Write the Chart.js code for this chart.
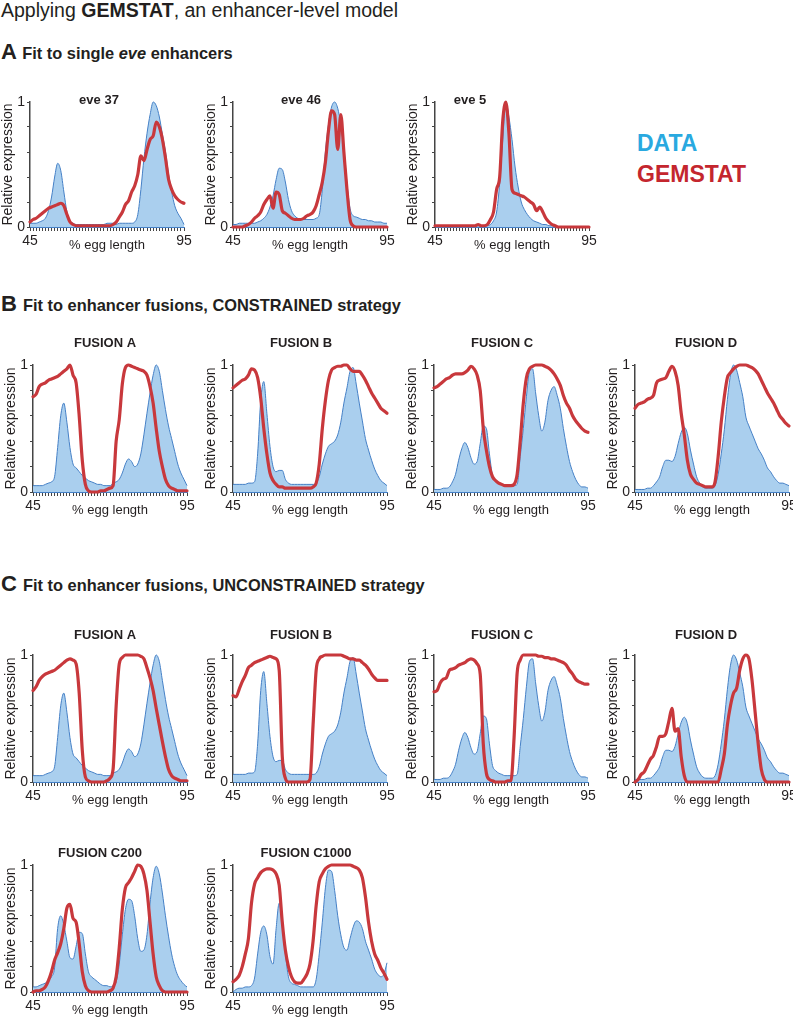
<!DOCTYPE html>
<html>
<head>
<meta charset="utf-8">
<script src="https://cdn.jsdelivr.net/npm/chart.js@4.4.1/dist/chart.umd.min.js"></script>
<style>
  body { margin: 0; background: #fff; overflow: hidden;
         font-family: "Liberation Sans", Arial, Helvetica, sans-serif; color: #231f20; }
  #page { position: relative; width: 793px; height: 1020px; }
  .txt { position: absolute; white-space: nowrap; line-height: 1; }
  .hdr { font-size: 22px; font-weight: bold; }
  .hdr span { font-size: 16.4px; }
  canvas { position: absolute; }
</style>
</head>
<body>
<div id="page">
  <div class="txt" style="left:1px; top:1px; font-size:19.5px;">Applying <b>GEMSTAT</b>, an enhancer-level model</div>
  <div class="txt hdr" style="left:1px; top:41px;">A <span>Fit to single <i>eve</i> enhancers</span></div>
  <div class="txt hdr" style="left:1px; top:293px;">B <span>Fit to enhancer fusions, CONSTRAINED strategy</span></div>
  <div class="txt hdr" style="left:1px; top:573px;">C <span>Fit to enhancer fusions, UNCONSTRAINED strategy</span></div>
  <div class="txt" style="left:637px; top:132px; font-size:23px; font-weight:bold; color:#29a9e0;">DATA</div>
  <div class="txt" style="left:637px; top:163px; font-size:23px; font-weight:bold; color:#c4262e;">GEMSTAT</div>
</div>
<script>
// x positions (% egg length)
const eggPos = [45,46,47,48,49,50,51,52,53,54,55,56,57,58,59,60,61,62,63,64,65,66,67,68,69,70,
                71,72,73,74,75,76,77,78,79,80,81,82,83,84,85,86,87,88,89,90,91,92,93,94,95];
const xTickLabels = [45, 95];
const yTickLabels = [0, 1];

// A: single eve enhancers
const eve37Data = [.03,.03,.03,.04,.05,.07,.13,.24,.4,.51, .45,.28,.12,.05,.03,.02,.02,.02,.02,.02,
  .02,.02,.02,.02,.02,.03,.03,.03,.02,.03, .03,.03,.03,.03,.04,.1,.3,.55,.75,.9, 1.0,.97,.88,.74,.6,.42,.28,.17,.11,.07, .02];
const eve37Gem = [.04,.06,.07,.09,.11,.13,.15,.16,.17,.18, .19,.17,.1,.04,.02,.01,.01,.01,.01,.01,
  .01,.01,.01,.01,.01,.01,.01,.02,.04,.08, .12,.18,.21,.28,.33,.42,.57,.53,.62,.7, .73,.84,.8,.7,.55,.38,.3,.25,.22,.2, .19];
const eve46Data = [.02,.02,.03,.03,.03,.03,.03,.03,.04,.05, .07,.1,.16,.25,.38,.47,.46,.36,.22,.13,
  .09,.07,.06,.06,.06,.06,.06,.07,.1,.3, .6,.82,.96,1.0,.95,.82,.62,.35,.15,.09, .08,.07,.06,.06,.05,.05,.04,.04,.04,.03, .03];
const eve46Gem = [0,0,0,0,.01,.02,.04,.07,.09,.12, .18,.22,.25,.15,.28,.26,.13,.11,.09,.07,
  .06,.06,.06,.07,.09,.1,.12,.17,.26,.36, .52,.77,.93,.9,.62,.9,.6,.3,.06,.01, 0,0,0,0,0,0,0,0,0,0, 0];
const eve5Data = [.01,.01,.01,.01,.01,.01,.01,.01,.01,.01, .01,.01,.01,.01,.01,.01,.01,.01,.02,.05,
  .12,.35,.7,1.0,.88,.7,.48,.32,.2,.14, .1,.07,.05,.04,.03,.02,.02,.01,.01,.01, 0,0,0,0,0,0,0,0,0,0, 0];
const eve5Gem = [.01,.01,.01,.01,.01,.01,.01,.01,.01,.01, .01,.01,.01,.01,.02,.01,.01,.02,.06,.12,
  .3,.4,.85,1.0,.75,.3,.27,.26,.25,.24, .22,.2,.18,.13,.16,.12,.07,.04,.02,.01, 0,0,0,0,0,0,0,0,0,0, 0];

// enhancer fusions: measured expression
const fusAData = [.05,.05,.05,.05,.06,.07,.08,.12,.35,.6, .7,.55,.35,.22,.19,.16,.13,.11,.09,.08,
  .07,.06,.06,.05,.05,.05,.07,.08,.1,.15, .22,.26,.24,.2,.22,.3,.45,.62,.78,.92, 1.0,.95,.8,.65,.52,.42,.32,.22,.15,.1, .05];
const fusBData = [.06,.06,.06,.06,.06,.07,.07,.08,.3,.72, .87,.62,.36,.2,.16,.17,.17,.1,.07,.06,
  .06,.06,.06,.06,.06,.06,.06,.07,.12,.22, .3,.36,.38,.4,.45,.55,.7,.82,.95,.98, .85,.7,.56,.42,.33,.25,.18,.13,.09,.07, .05];
const fusCData = [.02,.02,.02,.03,.03,.04,.08,.14,.25,.34, .39,.35,.27,.22,.24,.38,.52,.5,.3,.13,
  .09,.07,.06,.05,.05,.05,.05,.06,.28,.5, .75,.95,.97,.78,.6,.48,.55,.72,.8,.83, .76,.66,.5,.36,.24,.16,.1,.06,.04,.04, .03];
const fusDData = [.02,.02,.02,.02,.03,.03,.05,.08,.12,.2, .25,.25,.24,.28,.38,.47,.51,.46,.33,.22,
  .12,.07,.04,.03,.03,.03,.05,.14,.3,.49, .73,.92,1.0,.96,.86,.75,.59,.52,.46,.4, .34,.3,.25,.19,.16,.12,.09,.07,.07,.06, .05];
const fusC200Data = [.04,.04,.05,.06,.07,.09,.12,.19,.5,.6, .53,.4,.27,.26,.36,.47,.46,.3,.16,.12,
  .1,.08,.06,.05,.05,.04,.05,.08,.22,.45, .65,.73,.72,.6,.42,.32,.33,.45,.7,.9, .99,.93,.78,.6,.44,.3,.2,.13,.09,.06, .04];
const fusC1000Data = [0,.02,.03,.03,.04,.04,.05,.11,.3,.47, .52,.45,.28,.22,.5,.7,.52,.3,.12,.07,
  .06,.05,.04,.04,.04,.04,.04,.1,.3,.55, .82,.96,.95,.8,.6,.45,.35,.33,.42,.51, .56,.55,.5,.4,.33,.26,.18,.14,.12,.14, .23];

// B: GEMSTAT, constrained strategy
const fusAGemCon = [.75,.77,.83,.85,.86,.88,.89,.9,.91,.93, .95,.97,1.0,.92,.86,.6,.25,.06,.01,0,
  0,0,.01,.01,.02,.03,.05,.4,.57,.85, .98,1.0,.99,.98,.97,.96,.95,.92,.83,.7, .5,.32,.2,.1,.05,.03,.02,.01,.01,.01, .01];
const fusBGemCon = [.82,.84,.86,.88,.89,.92,.97,.96,.9,.74, .5,.3,.15,.09,.06,.04,.04,.03,.03,.03,
  .03,.03,.03,.03,.03,.03,.04,.07,.22,.5, .72,.88,.96,.98,.99,.99,1.0,1.0,.97,.95, .95,.95,.92,.88,.83,.78,.74,.7,.66,.64, .62];
const fusCGemCon = [.82,.83,.85,.87,.89,.9,.92,.93,.93,.93, .94,.96,.99,.97,.92,.8,.5,.33,.2,.12,
  .09,.07,.06,.05,.05,.05,.06,.14,.4,.7, .9,.97,.99,1.0,1.0,1.0,.99,.98,.96,.93, .89,.84,.76,.7,.66,.6,.56,.53,.5,.48, .47];
const fusDGemCon = [.66,.69,.7,.71,.73,.74,.76,.86,.88,.89, .9,.95,.99,.95,.84,.62,.45,.25,.14,.1,
  .07,.06,.05,.04,.04,.04,.08,.28,.55,.75, .9,.94,.97,.99,1.0,1.0,1.0,.99,.98,.96, .93,.88,.83,.78,.74,.7,.65,.6,.57,.54, .52];

// C: GEMSTAT, unconstrained strategy
const fusAGemUnc = [.72,.75,.8,.83,.85,.86,.87,.88,.9,.92, .94,.96,.97,.96,.93,.7,.25,.04,.01,0,
  0,0,0,0,.01,.03,.1,.6,.93,.98, 1.0,1.0,1.0,1.0,1.0,.99,.97,.9,.82,.72, .58,.45,.32,.2,.1,.05,.03,.02,.01,.01, .01];
const fusBGemUnc = [.68,.67,.73,.79,.84,.9,.92,.94,.95,.96, .97,.98,.99,.98,.97,.88,.2,.03,0,0,
  0,0,0,0,0,.02,.45,.88,.97,.99, 1.0,1.0,1.0,1.0,1.0,1.0,.99,.98,.97,.97, .96,.96,.94,.92,.89,.85,.82,.8,.8,.8, .8];
const fusCGemUnc = [.71,.72,.78,.81,.82,.88,.89,.9,.92,.93, .94,.96,.97,.96,.93,.85,.3,.07,.02,.01,
  0,0,0,0,.01,.01,.35,.86,.96,1.0, 1.0,1.0,1.0,1.0,.99,.99,.98,.98,.97,.97, .96,.95,.94,.92,.88,.85,.81,.79,.78,.77, .77];
const fusDGemUnc = [0,.02,.06,.08,.13,.18,.21,.28,.36,.36, .38,.48,.58,.4,.42,.2,.05,0,0,0,
  0,0,0,0,0,0,0,0,.1,.22, .45,.6,.7,.74,.88,.97,1.0,.97,.8,.55, .3,.1,.02,0,0,0,0,0,0,0, 0];
const fusC200GemUnc = [0,.01,.01,.02,.04,.09,.16,.25,.31,.38, .5,.66,.69,.58,.55,.38,.16,.05,.01,0,
  0,0,0,0,0,.01,.03,.12,.35,.65, .82,.86,.9,.95,1.0,.99,.93,.8,.55,.3, .12,.05,.01,0,0,0,0,0,0,0, 0];
const fusC1000GemUnc = [.08,.1,.13,.2,.3,.42,.7,.85,.9,.94, .96,.97,.97,.96,.93,.84,.55,.33,.2,.12,
  .08,.07,.07,.1,.14,.22,.4,.68,.87,.93, .97,.99,1.0,1.0,1.0,1.0,1.0,1.0,1.0,.99, .98,.96,.9,.75,.55,.4,.3,.25,.19,.15, .1];

// panel layout: left = x of the y axis, top = y of value 1, h = plot height
const panels = [
  { title: 'eve 37', data: eve37Data, model: eve37Gem, left: 30, top: 102, h: 125, dx: 69, dy: 2 },
  { title: 'eve 46', data: eve46Data, model: eve46Gem, left: 233, top: 102, h: 125, dx: 68, dy: 2 },
  { title: 'eve 5', data: eve5Data, model: eve5Gem, left: 435, top: 102, h: 125, dx: 35, dy: 2 },
  { title: 'FUSION A', data: fusAData, model: fusAGemCon, left: 33, top: 365, h: 127, dx: 72, dy: 22 },
  { title: 'FUSION B', data: fusBData, model: fusBGemCon, left: 233, top: 365, h: 127, dx: 68, dy: 22 },
  { title: 'FUSION C', data: fusCData, model: fusCGemCon, left: 434, top: 365, h: 127, dx: 68, dy: 22 },
  { title: 'FUSION D', data: fusDData, model: fusDGemCon, left: 635, top: 365, h: 127, dx: 71, dy: 22 },
  { title: 'FUSION A', data: fusAData, model: fusAGemUnc, left: 33, top: 655, h: 127, dx: 72, dy: 20 },
  { title: 'FUSION B', data: fusBData, model: fusBGemUnc, left: 233, top: 655, h: 127, dx: 68, dy: 20 },
  { title: 'FUSION C', data: fusCData, model: fusCGemUnc, left: 434, top: 655, h: 127, dx: 68, dy: 20 },
  { title: 'FUSION D', data: fusDData, model: fusDGemUnc, left: 635, top: 655, h: 127, dx: 71, dy: 20 },
  { title: 'FUSION C200', data: fusC200Data, model: fusC200GemUnc, left: 33, top: 865, h: 127, dx: 67, dy: 12 },
  { title: 'FUSION C1000', data: fusC1000Data, model: fusC1000GemUnc, left: 233, top: 865, h: 127, dx: 73, dy: 12 }
];

const PLOT_W = 154, Y_AXIS_W = 30, X_AXIS_H = 26, TOP_PAD = 34, RIGHT_PAD = 14;
const FONT = '"Liberation Sans", Arial, Helvetica, sans-serif';
Chart.defaults.font.family = FONT;

// panel title drawn over the plot area
const panelTitle = {
  id: 'panelTitle',
  afterDraw(chart, args, opts) {
    const { ctx, chartArea } = chart;
    ctx.save();
    ctx.font = 'bold 13px ' + FONT;
    ctx.fillStyle = '#231f20';
    ctx.textAlign = 'center';
    ctx.textBaseline = 'middle';
    ctx.fillText(opts.text, chartArea.left + opts.dx, chartArea.top - opts.dy);
    ctx.restore();
  }
};

const page = document.getElementById('page');
const toPoints = arr => eggPos.map((x, i) => ({ x: x, y: arr[i] }));

panels.forEach(p => {
  const W = Y_AXIS_W + PLOT_W + RIGHT_PAD;
  const H = TOP_PAD + p.h + X_AXIS_H;
  const cv = document.createElement('canvas');
  cv.width = W; cv.height = H;
  cv.style.width = W + 'px'; cv.style.height = H + 'px';
  cv.style.left = (p.left - Y_AXIS_W) + 'px';
  cv.style.top = (p.top - TOP_PAD) + 'px';
  page.appendChild(cv);

  new Chart(cv, {
    type: 'line',
    data: {
      datasets: [
        {
          label: 'GEMSTAT',
          data: toPoints(p.model),
          borderColor: '#c8383c',
          borderWidth: 3.2,
          pointRadius: 0,
          fill: false,
          cubicInterpolationMode: 'monotone',
          borderJoinStyle: 'round',
          borderCapStyle: 'round',
          clip: 6
        },
        {
          label: 'DATA',
          data: toPoints(p.data),
          borderColor: '#4580c6',
          backgroundColor: '#aacfee',
          borderWidth: 1,
          pointRadius: 0,
          fill: 'origin',
          cubicInterpolationMode: 'monotone',
          clip: 4
        }
      ]
    },
    options: {
      responsive: false,
      animation: false,
      devicePixelRatio: 1,
      events: [],
      layout: { padding: { top: TOP_PAD, right: RIGHT_PAD, left: 0, bottom: 0 } },
      plugins: {
        legend: { display: false },
        tooltip: { enabled: false },
        panelTitle: { text: p.title, dx: p.dx, dy: p.dy }
      },
      scales: {
        x: {
          type: 'linear',
          min: 45,
          max: 95,
          grid: { drawOnChartArea: false, drawTicks: true, tickLength: 4, color: '#444', lineWidth: 1 },
          border: { display: true, color: '#4580c6', width: 1 },
          ticks: {
            stepSize: 1,
            maxTicksLimit: 60,
            autoSkip: false,
            maxRotation: 0,
            padding: 2,
            color: '#231f20',
            font: { size: 14 },
            callback: v => xTickLabels.includes(v) ? String(v) : ''
          },
          title: { display: true, text: '% egg length', color: '#231f20', font: { size: 13 }, padding: 0 },
          afterFit: s => { s.height = X_AXIS_H; }
        },
        y: {
          min: 0,
          max: 1,
          grid: { drawOnChartArea: false, tickLength: 3, color: '#444' },
          border: { display: true, color: '#444', width: 1.5 },
          ticks: {
            stepSize: 0.2,
            padding: 2,
            color: '#231f20',
            font: { size: 14 },
            callback: v => {
              const hit = yTickLabels.find(t => Math.abs(t - v) < 1e-6);
              return hit === undefined ? '' : String(hit);
            }
          },
          title: { display: true, text: 'Relative expression', color: '#231f20', font: { size: 14 }, padding: 0 },
          afterFit: s => { s.width = Y_AXIS_W; }
        }
      }
    },
    plugins: [panelTitle]
  });
});
</script>
</body>
</html>
